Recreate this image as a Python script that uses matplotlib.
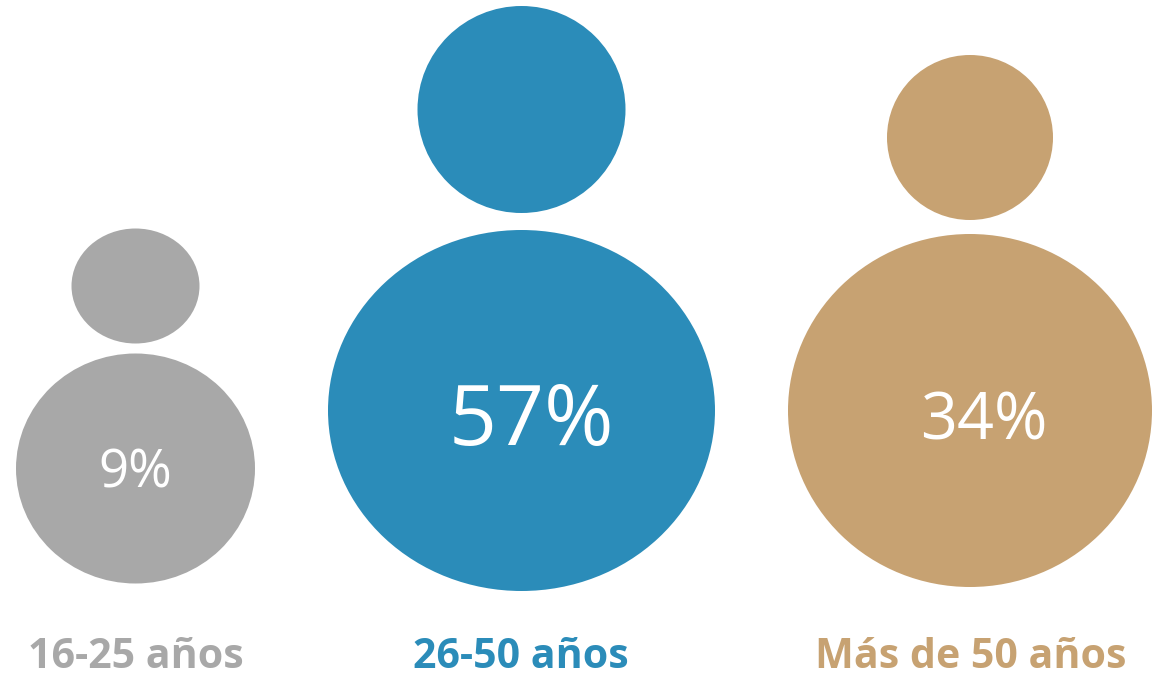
import matplotlib.pyplot as plt
from matplotlib.patches import Ellipse

# ancho y alto en pixeles de la imagen
W, H = 1154, 678

grupos = ['16-25 años', '26-50 años', 'Más de 50 años']
porcentajes = ['9%', '57%', '34%']
colores = ['#A8A8A8', '#2B8CB9', '#C7A272']

# cuerpo: centro x, centro y, ancho, alto
cuerpos = [(135.5, 468.5, 239, 230), (521.5, 410.5, 387, 361), (970, 410.5, 364, 353)]
# cabeza: centro x, centro y, ancho, alto
cabezas = [(135.5, 286, 128, 115), (521.5, 109.5, 208, 207), (970, 137.5, 166, 165)]

pos_pct = [(135.5, 474), (531, 423), (983.5, 423)]
tam_pct = [38, 60.5, 46.5]
pos_label = [(135.5, 658), (521, 658), (970.5, 658)]

plt.rcParams['font.family'] = ['Open Sans', 'DejaVu Sans']

fig = plt.figure(figsize=(W / 100, H / 100), dpi=100)
ax = fig.add_axes([0, 0, 1, 1])
ax.set_xlim(0, W)
ax.set_ylim(H, 0)
ax.axis('off')

for i in range(3):
    x, y, w, h = cuerpos[i]
    ax.add_patch(Ellipse((x, y), w, h, color=colores[i], lw=0))
    x, y, w, h = cabezas[i]
    ax.add_patch(Ellipse((x, y), w, h, color=colores[i], lw=0))
    ax.text(pos_pct[i][0], pos_pct[i][1], porcentajes[i], color='white',
            fontsize=tam_pct[i], ha='center', va='center')
    ax.text(pos_label[i][0], pos_label[i][1], grupos[i], color=colores[i],
            fontsize=29.6, fontweight='bold', ha='center', va='center')

fig.savefig('out.png', dpi=100)
